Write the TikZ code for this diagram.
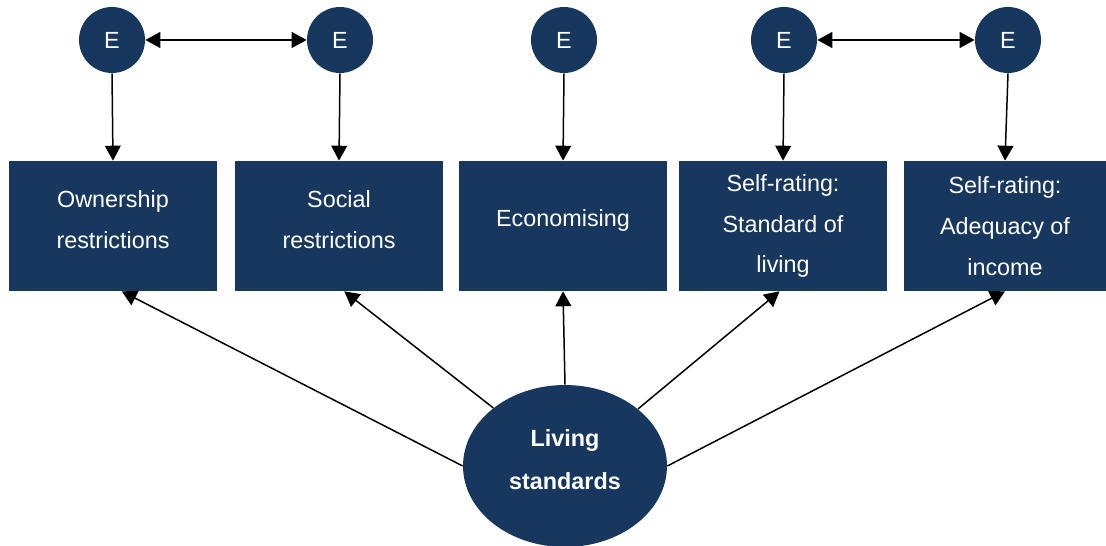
\documentclass[tikz,border=0pt]{standalone}
\usepackage{fontspec}
\setmainfont{Liberation Sans}
\usetikzlibrary{shapes.geometric,arrows.meta}
\definecolor{navy}{HTML}{17375E}
\begin{document}
\begin{tikzpicture}[x=0.02cm,y=-0.02cm,
  box/.style={draw=none,fill=navy,minimum width=4.16cm,minimum height=2.6cm,inner sep=0pt},
  lbl/.style={text=white,align=center,font={\fontsize{13.3pt}{23.2pt}\selectfont}},
  err/.style={circle,fill=navy,minimum size=1.32cm,inner sep=0pt,text=white,font={\fontsize{13.3pt}{16pt}\selectfont}},
  lat/.style={ellipse,fill=navy,minimum width=4.08cm,minimum height=3.24cm,inner sep=0pt},
  latlbl/.style={text=white,align=center,font={\bfseries\fontsize{13.3pt}{24.4pt}\selectfont}},
  arr/.style={line width=0.85pt,-{Triangle[length=8.5pt,width=9pt]}},
  darr/.style={line width=0.85pt,{Triangle[length=8.5pt,width=9pt]}-{Triangle[length=8.5pt,width=9pt]}}]
\useasboundingbox (0,0) rectangle (1106,546);
\node[box,label={[lbl,yshift=3.4pt]center:{Ownership\\restrictions}}] (b1) at (113,226) {};
\node[box,label={[lbl,yshift=3.4pt]center:{Social\\restrictions}}] (b2) at (339,226) {};
\node[box,label={[lbl,yshift=3.4pt]center:{Economising}}] (b3) at (563,226) {};
\node[box,label={[lbl]center:{Self-rating:\\Standard of\\living}}] (b4) at (783,226) {};
\node[box,minimum width=4.04cm,label={[lbl]center:{Self-rating:\\Adequacy of\\income}}] (b5) at (1005,226) {};
\node[err] (e1) at (112,40) {E};
\node[err] (e2) at (340,40) {E};
\node[err] (e3) at (564,40) {E};
\node[err] (e4) at (784,40) {E};
\node[err] (e5) at (1008,40) {E};
\node[lat,label={[latlbl,yshift=3.4pt]center:{Living\\standards}}] (ls) at (565,466) {};
\draw[darr] (e1.east) -- (e2.west);
\draw[darr] (e4.east) -- (e5.west);
\foreach \i in {1,...,5} {\draw[arr] (e\i.south) -- (b\i.north);}
\draw[arr] (ls.180) -- ([xshift=5]b1.south);
\draw[arr] (ls.141) -- ([xshift=3]b2.south);
\draw[arr] (ls.90) -- (b3.south);
\draw[arr] (ls.38) -- ([xshift=-2]b4.south);
\draw[arr] (ls.0) -- (b5.south);
\end{tikzpicture}
\end{document}
